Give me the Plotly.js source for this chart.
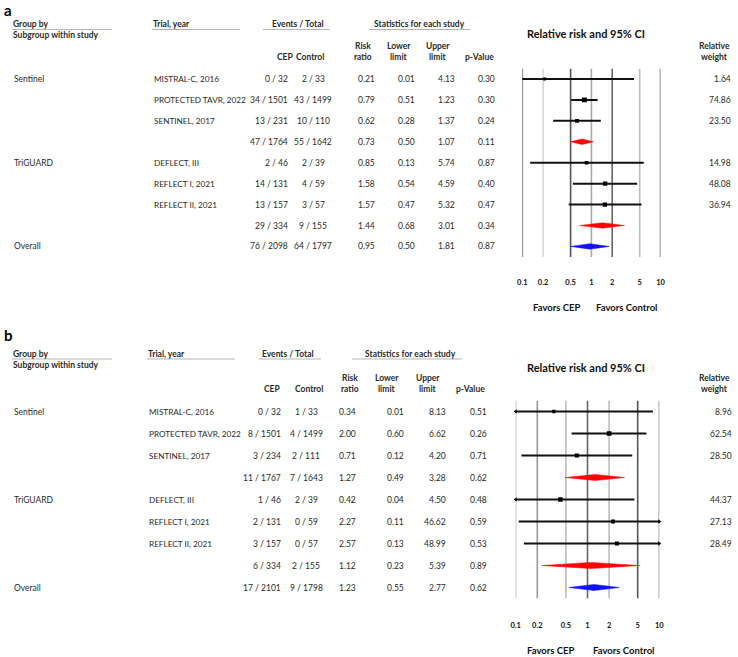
<!DOCTYPE html>
<html><head><meta charset="utf-8">
<script src="https://cdn.plot.ly/plotly-3.0.1.min.js"></script>
<style>html,body{margin:0;padding:0;background:#fff}#chart{width:738px;height:657px}</style>
</head><body><div id="chart"></div>
<script>
// ---------- data ----------
const groupLabels = ["Sentinel", "", "", "", "TriGUARD", "", "", "", "Overall"];
const trialLabels = ["MISTRAL-C, 2016", "PROTECTED TAVR, 2022", "SENTINEL, 2017", "", "DEFLECT, III", "REFLECT I, 2021", "REFLECT II, 2021", "", ""];
const rowKind = ["study", "study", "study", "sub", "study", "study", "study", "sub", "overall"];
const tickVals = [0.1, 0.2, 0.5, 1, 2, 5, 10];
const tickText = ["0.1", "0.2", "0.5", "1", "2", "5", "10"];

// panel a
const aCEP = ["0 / 32", "34 / 1501", "13 / 231", "47 / 1764", "2 / 46", "14 / 131", "13 / 157", "29 / 334", "76 / 2098"];
const aCtrl = ["2 / 33", "43 / 1499", "10 / 110", "55 / 1642", "2 / 39", "4 / 59", "3 / 57", "9 / 155", "64 / 1797"];
const aRR = [0.21, 0.79, 0.62, 0.73, 0.85, 1.58, 1.57, 1.44, 0.95];
const aLo = [0.01, 0.51, 0.28, 0.50, 0.13, 0.54, 0.47, 0.68, 0.50];
const aHi = [4.13, 1.23, 1.37, 1.07, 5.74, 4.59, 5.32, 3.01, 1.81];
const aP = [0.30, 0.30, 0.24, 0.11, 0.87, 0.40, 0.47, 0.34, 0.87];
const aW = [1.64, 74.86, 23.50, null, 14.98, 48.08, 36.94, null, null];

// panel b
const bCEP = ["0 / 32", "8 / 1501", "3 / 234", "11 / 1767", "1 / 46", "2 / 131", "3 / 157", "6 / 334", "17 / 2101"];
const bCtrl = ["1 / 33", "4 / 1499", "2 / 111", "7 / 1643", "2 / 39", "0 / 59", "0 / 57", "2 / 155", "9 / 1798"];
const bRR = [0.34, 2.00, 0.71, 1.27, 0.42, 2.27, 2.57, 1.12, 1.23];
const bLo = [0.01, 0.60, 0.12, 0.49, 0.04, 0.11, 0.13, 0.23, 0.55];
const bHi = [8.13, 6.62, 4.20, 3.28, 4.50, 46.62, 48.99, 5.39, 2.77];
const bP = [0.51, 0.26, 0.71, 0.62, 0.48, 0.59, 0.53, 0.89, 0.62];
const bW = [8.96, 62.54, 28.50, null, 44.37, 27.13, 28.49, null, null];

// ---------- layout helpers ----------
const W = 738, H = 657;
const FONT = "Lato, 'Open Sans', sans-serif";
const TXT = "#2a2a2a";
const px = x => x / W, py = y => 1 - y / H;
const annotations = [], shapes = [], traces = [];

function ann(text, x, y, o) {
  o = o || {};
  annotations.push({
    text: text, x: px(x), y: py(y), xref: "paper", yref: "paper",
    xanchor: o.xa || "left", yanchor: o.ya || "middle", showarrow: false, borderpad: 0,
    font: {family: FONT, size: o.size || 8.5, color: o.color || TXT}
  });
}
function rowAnn(text, x, row, yref, o) {
  o = o || {};
  annotations.push({
    text: text, x: px(x), y: row, xref: "paper", yref: yref,
    xanchor: o.xa || "left", yanchor: "middle", showarrow: false,
    font: {family: FONT, size: o.size || 8.5, color: o.color || TXT}
  });
}
function hline(x0, x1, y) {
  shapes.push({type: "line", xref: "paper", yref: "paper", x0: px(x0), x1: px(x1), y0: py(y), y1: py(y),
    line: {color: "#b5b5b5", width: 1}});
}

function panel(cfg) {
  const {label, top, xa, ya, cols, CEP, Ctrl, RR, Lo, Hi, P, Wt, gridCols, diamondH} = cfg;
  // panel letter
  ann("<b>" + label + "</b>", 3, top.letter, {size: 15, color: "#000", ya: top.letterAnchor});
  // group headers
  ann("<b>Group by</b>", 12, top.h1, {});
  ann("<b>Subgroup within study</b>", 12, top.h1 + 11, {});
  hline(12, 112, top.h1 + 5.5);
  ann("<b>Trial, year</b>", cols.trial, top.h1, {});
  hline(cols.trial, cols.trial + 88, top.h1 + 5.5);
  ann("<b>Events / Total</b>", cols.evC, top.h1, {xa: "center"});
  hline(cols.evL, cols.evR, top.h1 + 5.5);
  ann("<b>Statistics for each study</b>", cols.stC, top.h1, {xa: "center"});
  hline(cols.stL, cols.stR, top.h1 + 5.5);
  ann("<b>Relative risk and 95% CI</b>", cols.rrTitle, top.title, {xa: "center", size: 11, color: "#111"});
  // column headers
  ann("<b>CEP</b>", cols.cepH, top.h3, {xa: "center"});
  ann("<b>Control</b>", cols.ctrlH, top.h3, {xa: "center"});
  ann("<b>Risk</b>", cols.rrH, top.h2, {xa: "center"});
  ann("<b>ratio</b>", cols.rrH, top.h3, {xa: "center"});
  ann("<b>Lower</b>", cols.loH, top.h2, {xa: "center"});
  ann("<b>limit</b>", cols.loH, top.h3, {xa: "center"});
  ann("<b>Upper</b>", cols.hiH, top.h2, {xa: "center"});
  ann("<b>limit</b>", cols.hiH, top.h3, {xa: "center"});
  ann("<b>p-Value</b>", cols.pH, top.h3, {xa: "center"});
  ann("<b>Relative</b>", 714, top.h2, {xa: "center"});
  ann("<b>weight</b>", 714, top.h3, {xa: "center"});
  // rows
  for (let i = 0; i < RR.length; i++) {
    if (groupLabels[i]) rowAnn(groupLabels[i], 12, i, ya);
    if (trialLabels[i]) rowAnn(trialLabels[i], cols.trial, i, ya, {size: 8.2});
    rowAnn(CEP[i], cols.cep, i, ya, {xa: "right"});
    rowAnn(Ctrl[i], cols.ctrl, i, ya, {xa: "center"});
    rowAnn(RR[i].toFixed(2), cols.rr, i, ya, {xa: "right"});
    rowAnn(Lo[i].toFixed(2), cols.lo, i, ya, {xa: "right"});
    rowAnn(Hi[i].toFixed(2), cols.hi, i, ya, {xa: "right"});
    rowAnn(P[i].toFixed(2), cols.p, i, ya, {xa: "right"});
    if (Wt[i] !== null) rowAnn(Wt[i].toFixed(2), cols.w, i, ya, {xa: "right"});
  }
  // favors
  ann("<b>Favors CEP</b>", cols.favL, top.fav, {xa: "center", size: 9.5, color: "#111"});
  ann("<b>Favors Control</b>", cols.favR, top.fav, {xa: "center", size: 9.5, color: "#111"});

  const xn = xa.replace("axis", ""), yn = ya;
  // vertical reference lines
  tickVals.forEach((v, k) => {
    traces.push({x: [v, v], y: [-0.5, RR.length - 0.5], xaxis: xn, yaxis: yn, mode: "lines",
      line: {color: gridCols[k], width: 1.6}, hoverinfo: "skip", showlegend: false});
  });
  const xmin = tickVals[0], xmax = tickVals[tickVals.length - 1];
  for (let i = 0; i < RR.length; i++) {
    if (rowKind[i] === "study") {
      traces.push({x: [Lo[i], Hi[i]], y: [i, i], xaxis: xn, yaxis: yn, mode: "lines",
        line: {color: "#111", width: 2}, hoverinfo: "skip", showlegend: false});
      const sz = 2.5 + Math.sqrt(Wt[i]) * 0.28;
      traces.push({x: [RR[i]], y: [i], xaxis: xn, yaxis: yn, mode: "markers",
        marker: {symbol: "square", size: sz, color: "#000"}, hoverinfo: "skip", showlegend: false});
      if (cfg.arrows && Lo[i] < xmin) traces.push({x: [xmin], y: [i], xaxis: xn, yaxis: yn, mode: "markers",
        marker: {symbol: "triangle-left", size: 4, color: "#000"}, cliponaxis: false, hoverinfo: "skip", showlegend: false});
      if (cfg.arrows && Hi[i] > xmax) traces.push({x: [xmax], y: [i], xaxis: xn, yaxis: yn, mode: "markers",
        marker: {symbol: "triangle-right", size: 4, color: "#000"}, cliponaxis: false, hoverinfo: "skip", showlegend: false});
    } else {
      const col = rowKind[i] === "overall" ? "#1010ff" : "#ff0000";
      traces.push({x: [Lo[i], RR[i], Hi[i], RR[i], Lo[i]], y: [i, i - diamondH, i, i + diamondH, i],
        xaxis: xn, yaxis: yn, mode: "lines", fill: "toself", fillcolor: col,
        line: {color: col, width: 0.5}, hoverinfo: "skip", showlegend: false});
    }
  }
}

// ---------- panel a ----------
panel({
  label: "a", xa: "xaxis", ya: "y", CEP: aCEP, Ctrl: aCtrl, RR: aRR, Lo: aLo, Hi: aHi, P: aP, Wt: aW,
  top: {letter: 0, letterAnchor: "top", h1: 24, h2: 45.7, h3: 57.3, title: 33, fav: 307.5},
  cols: {trial: 152, cep: 290, ctrl: 313, rr: 377, lo: 417, hi: 457, p: 497, w: 733,
    evC: 298, evL: 263, evR: 330, stC: 419.5, stL: 369, stR: 470, rrTitle: 585.5,
    cepH: 285, ctrlH: 310, rrH: 363, loH: 398.5, hiH: 438, pH: 479, favL: 556.7, favR: 626},
  gridCols: ["#666", "#d8d8d8", "#555", "#aaa", "#666", "#bbb", "#777"],
  diamondH: 0.13, arrows: false
});
// ---------- panel b ----------
panel({
  label: "b", xa: "xaxis2", ya: "y2", CEP: bCEP, Ctrl: bCtrl, RR: bRR, Lo: bLo, Hi: bHi, P: bP, Wt: bW,
  top: {letter: 335, letterAnchor: "middle", h1: 353.5, h2: 378, h3: 389.3, title: 367, fav: 650},
  cols: {trial: 147, cep: 283, ctrl: 306, rr: 358, lo: 406, hi: 448, p: 489, w: 734,
    evC: 288, evL: 259, evR: 321, stC: 410, stL: 352, stR: 462, rrTitle: 586,
    cepH: 272.5, ctrlH: 309, rrH: 350, loH: 387, hiH: 428, pH: 470.5, favL: 551, favR: 623},
  gridCols: ["#bbb", "#999", "#bbb", "#666", "#bbb", "#555", "#999"],
  diamondH: 0.14, arrows: true
});

const tickLabels = tickText.map(t => "<b>" + t + "</b>");
const layout = {
  width: W, height: H, margin: {l: 0, r: 0, t: 0, b: 0},
  paper_bgcolor: "#fff", plot_bgcolor: "rgba(0,0,0,0)", showlegend: false,
  xaxis: {type: "log", range: [-1, 1], domain: [522.3 / W, 660.5 / W], anchor: "free", position: py(276),
    tickvals: tickVals, ticktext: tickLabels, ticks: "", showgrid: false, zeroline: false, showline: false,
    tickfont: {family: FONT, size: 7.5, color: "#111"}, fixedrange: true},
  yaxis: {range: [8.5, -0.5], domain: [py(256.9), py(68.5)], visible: false, fixedrange: true},
  xaxis2: {type: "log", range: [-1, 1], domain: [515.7 / W, 659.3 / W], anchor: "free", position: py(619),
    tickvals: tickVals, ticktext: tickLabels, ticks: "", showgrid: false, zeroline: false, showline: false,
    tickfont: {family: FONT, size: 7.5, color: "#111"}, fixedrange: true},
  yaxis2: {range: [8.5, -0.5], domain: [py(598.5), py(400.5)], visible: false, fixedrange: true},
  annotations: annotations, shapes: shapes
};
Plotly.newPlot("chart", traces, layout, {staticPlot: true, displayModeBar: false});
</script></body></html>
